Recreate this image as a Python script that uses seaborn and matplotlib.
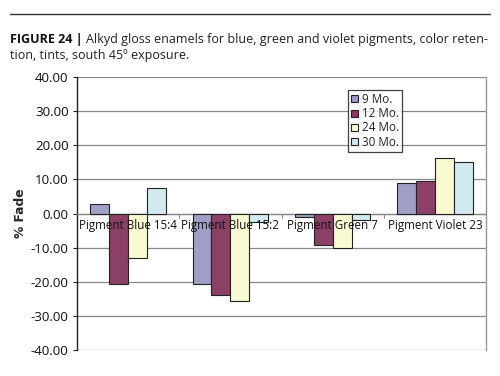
import matplotlib
matplotlib.use("Agg")
import matplotlib.pyplot as plt
import seaborn as sns
import pandas as pd
from matplotlib.ticker import FormatStrFormatter, FixedLocator
from matplotlib.patches import Rectangle
from matplotlib.lines import Line2D

pigments = ["Pigment Blue 15:4", "Pigment Blue 15:2", "Pigment Green 7", "Pigment Violet 23"]
periods = ["9 Mo.", "12 Mo.", "24 Mo.", "30 Mo."]
fade_9 = [2.8, -20.6, -1.0, 8.9]
fade_12 = [-20.5, -23.9, -9.2, 9.6]
fade_24 = [-12.9, -25.7, -10.2, 16.3]
fade_30 = [7.6, -2.4, -1.9, 15.1]
colors = ["#9999cc", "#993366", "#ffffcc", "#ccecf4"]
yticks = [-40, -30, -20, -10, 0, 10, 20, 30, 40]

rows = []
for per, vals in zip(periods, [fade_9, fade_12, fade_24, fade_30]):
    for p, v in zip(pigments, vals):
        rows.append({"pigment": p, "period": per, "fade": v})
df = pd.DataFrame(rows)

sns.set_style("white")
plt.rcParams["font.family"] = ["Open Sans", "DejaVu Sans"]

fig = plt.figure(figsize=(5.0, 3.76), dpi=100)
ax = fig.add_axes([0.154, 0.069, 0.818, 0.726])

sns.barplot(data=df, x="pigment", y="fade", hue="period", order=pigments,
            hue_order=periods, palette=colors, edgecolor="#222222",
            linewidth=0.8, width=0.74, gap=0, ax=ax, legend=False, zorder=3)

ax.set_ylim(-40, 40)
ax.set_xlim(-0.5, 3.5)
ax.yaxis.set_major_locator(FixedLocator(yticks))
ax.yaxis.set_major_formatter(FormatStrFormatter("%.2f"))
ax.grid(axis="y", color="#888888", linewidth=0.9, zorder=0)
ax.set_axisbelow(True)
ax.xaxis.set_zorder(10)

ax.spines["top"].set_visible(False)
ax.spines["right"].set_color("#999999")
ax.spines["right"].set_linewidth(1.0)
ax.spines["left"].set_color("#222222")
ax.spines["left"].set_linewidth(1.0)
ax.spines["bottom"].set_position(("data", 0))
ax.spines["bottom"].set_color("#888888")
ax.spines["bottom"].set_linewidth(0.9)

ax.tick_params(axis="y", which="major", left=True, length=3, width=0.8,
               color="#222222", labelsize=9.6, pad=3, labelcolor="#111111")
ax.tick_params(axis="x", which="major", length=0, labelsize=8.4, pad=4,
               labelcolor="#111111")
ax.set_xticks(range(len(pigments)))
ax.set_xticklabels(pigments)
ax.xaxis.set_minor_locator(FixedLocator([0.5, 1.5, 2.5]))
ax.tick_params(axis="x", which="minor", bottom=True, length=3, width=0.8,
               color="#888888")

ax.set_xlabel("")
ax.set_ylabel("% Fade", fontsize=8.8, fontweight="bold", labelpad=3,
              family=["DejaVu Sans"])

handles = [Rectangle((0, 0), 1, 1, facecolor=c, edgecolor="#222222", linewidth=0.8)
           for c in colors]
leg = ax.legend(handles, periods, loc="upper left", bbox_to_anchor=(0.663, 0.952),
                frameon=True, fancybox=False, fontsize=8.4, handlelength=0.55,
                handleheight=0.55, handletextpad=0.35, borderpad=0.25,
                labelspacing=0.1, borderaxespad=0)
leg.get_frame().set_edgecolor("#111111")
leg.get_frame().set_linewidth(0.9)
leg.set_zorder(6)

# top rule
fig.add_artist(Line2D([0.02, 0.98], [1 - 14 / 376, 1 - 14 / 376],
                      color="#333333", linewidth=1.0))

# title
fig.canvas.draw()
r = fig.canvas.get_renderer()
t1 = fig.text(0.02, 1 - 43 / 376, "FIGURE 24 |", fontsize=9.0, fontweight="bold",
              color="#111111", va="baseline")
bb = t1.get_window_extent(renderer=r)
x2 = (bb.x1 + 3) / fig.bbox.width
fig.text(x2, 1 - 43 / 376,
         "Alkyd gloss enamels for blue, green and violet pigments, color reten-",
         fontsize=9.0, color="#222222", va="baseline")
fig.text(0.02, 1 - 59 / 376, "tion, tints, south 45º exposure.", fontsize=9.0,
         color="#222222", va="baseline")

fig.savefig("out.png", dpi=100)
